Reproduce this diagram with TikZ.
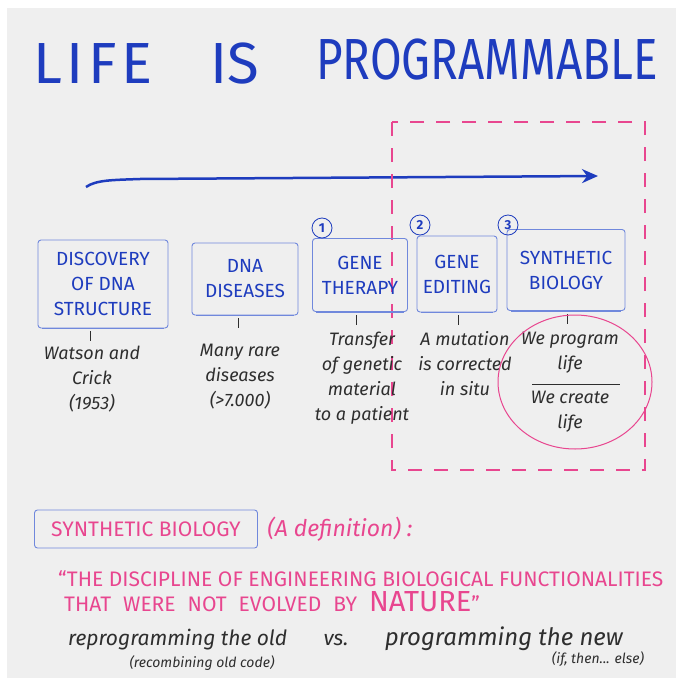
\documentclass[tikz,border=0pt]{standalone}
\usepackage{fontspec}
\setmainfont{Fira Sans}
\usetikzlibrary{positioning}
\usetikzlibrary{arrows.meta,calc}
\definecolor{inkblue}{HTML}{1E3CBE}
\definecolor{boxblue}{HTML}{7088DC}
\definecolor{inkpink}{HTML}{E8468F}
\definecolor{pencil}{HTML}{2E2E2E}
\definecolor{paper}{HTML}{EFEFEF}
\tikzstyle{headline}=[inkblue,font=\fontsize{58}{58}\selectfont,anchor=base west,inner sep=0pt]
\tikzstyle{stage}=[draw=boxblue,line width=0.9pt,rounded corners=3pt,text=inkblue,font=\fontsize{19}{25}\selectfont,align=center,inner sep=0pt]
\tikzstyle{stepnum}=[circle,draw=inkblue,thick,text=inkblue,font=\bfseries\fontsize{13}{13}\selectfont,inner sep=1pt,minimum size=20pt]
\tikzstyle{note}=[pencil,font=\itshape\fontsize{18}{25}\selectfont,align=center]
\tikzstyle{stemline} = [draw,pencil,thin]
\tikzstyle{timeline} = [draw,inkblue,line width=2.5pt,-{Stealth[length=16pt,width=14pt]}]
\tikzstyle{pinkdash} = [draw,inkpink,line width=1.2pt,dash pattern=on 14pt off 12pt]
\tikzstyle{quote} = [inkpink,font=\fontsize{21}{21}\selectfont,anchor=base west,inner sep=0pt]
\tikzstyle{contrast} = [pencil,font=\itshape\fontsize{21}{21}\selectfont,anchor=base west,inner sep=0pt]
\tikzstyle{aside} = [pencil,font=\itshape\fontsize{14}{14}\selectfont,inner sep=0pt]

\begin{document}
\begin{tikzpicture}[x=1pt,y=-1pt]
  \useasboundingbox (0,0) rectangle (683,685);
  \fill[white] (0,0) rectangle (683,685);
  \fill[paper] (7,8) rectangle (676,678);

  \node[headline] (life) at (33,83) {\addfontfeature{LetterSpace=8}LIFE};
  \node[headline] (is) at (210,83) {IS};
  \node[headline] (programmable) at (316,80) {\scalebox{0.79}[1]{PROGRAMMABLE}};

  % time arrow and the dashed frame round the new fields
  \coordinate (t0) at (86,187);
  \coordinate (t1) at (598,176);
  \path[timeline] (t0) .. controls (96,180) and (112,180) .. (140,179) -- (t1);
  \path[pinkdash] (392,122) rectangle (645,470);

  \foreach \pos/\name/\w/\h/\txt in {{(103,284)/disc/130/88/DISCOVERY\\OF DNA\\STRUCTURE},
      {(245,279)/dis/106/72/DNA\\DISEASES}, {(360,275)/ther/95/73/GENE\\THERAPY},
      {(457,274)/edit/80/76/GENE\\EDITING}, {(566,270)/synbio/118/81/SYNTHETIC\\BIOLOGY}}
    \node[stage,minimum width=\w pt,minimum height=\h pt] (\name) at \pos {\txt};

  \foreach \name in {disc,dis,ther,edit,synbio}
    \draw[boxblue,line width=1.6pt] ([xshift=4pt]\name.south west) -- ([xshift=-4pt]\name.south east);

  \foreach \pos/\name/\num in {{(322,228)/one/1}, {(420,225)/two/2}, {(508,225)/three/3}}
    \node[stepnum] (\name) at \pos {\num};

  \foreach \name/\dx in {disc/-13, dis/-7, ther/-4, edit/1, synbio/1}
    \path[stemline] ([xshift=\dx pt]\name.south) ++(0,3) -- ++(0,10);

  \node[note] (watson) at (92,379) {Watson and\\Crick\\(1953)};
  \node[note] (rare) at (240,377) {Many rare\\diseases\\(>7.000)};
  \node[note] (transfer) at (362,378) {Transfer\\of genetic\\material\\to a patient};
  \node[note] (mutation) at (465,364) {A mutation\\is corrected\\in situ};
  \node[note] (program) at (570,353) {We program\\life};
  \node[note] (create) at (570,412) {We create\\life};
  \draw[pencil,thin] (532,384) -- (620,384);
  \draw[inkpink,line width=1pt] (575,382) ellipse [x radius=77, y radius=67];

  % the definition underneath
  \node[stage,text=inkpink,font=\fontsize{21}{21}\selectfont,minimum width=223pt,minimum height=38pt] (sbtitle) at (146,529) {SYNTHETIC BIOLOGY};
  \node[inkpink,font=\itshape\fontsize{23}{23}\selectfont,right=6pt of sbtitle] (definition) {(A definition) :};
  \node[quote] (quote1) at (58,586) {“THE DISCIPLINE OF ENGINEERING BIOLOGICAL FUNCTIONALITIES};
  \node[quote] (quote2) at (64,611) {\spaceskip=12pt THAT WERE NOT EVOLVED BY {\fontsize{29}{29}\selectfont NATURE}”};

  \node[contrast] (old) at (68,645) {reprogramming the old};
  \node[contrast,base right=36pt of old] (vs) {vs.};
  \node[contrast,font=\itshape\fontsize{24}{24}\selectfont,base right=36pt of vs] (new) {programming the new};
  \node[aside] (recombining) at (202,663) {(recombining old code)};
  \node[aside] (ifthen) at (598,659) {(if, then... else)};
\end{tikzpicture}
\end{document}
